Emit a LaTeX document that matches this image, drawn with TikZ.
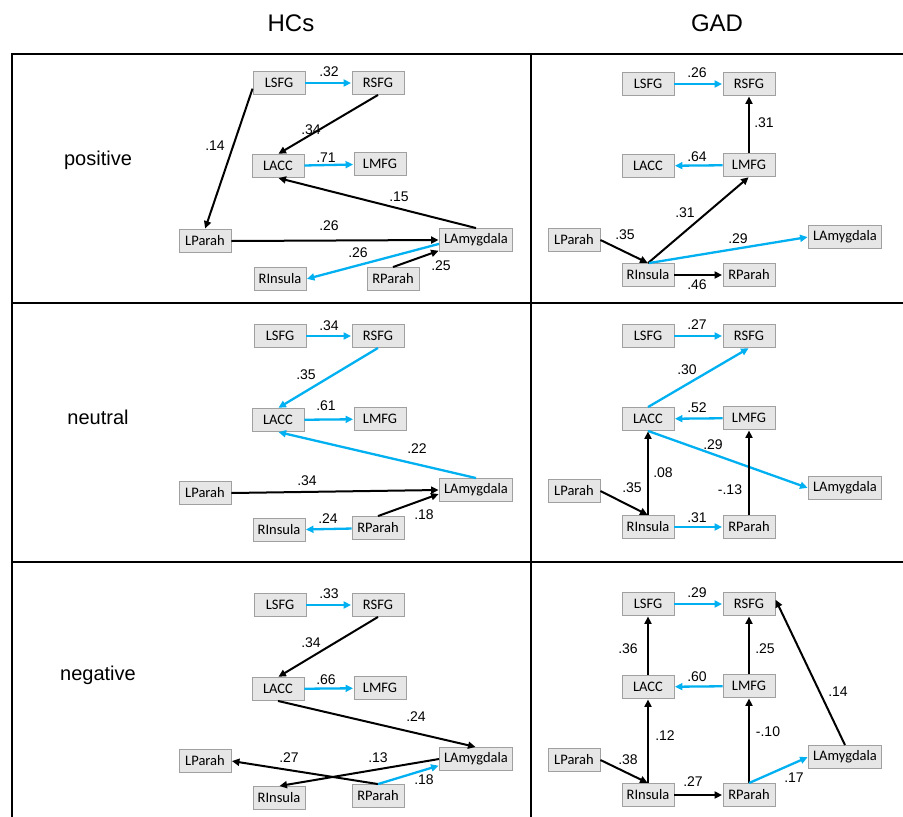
\documentclass[tikz,border=0pt]{standalone}
\usepackage{fontspec}
\setmainfont{Liberation Sans}
\newfontfamily\boxfont{Carlito}
\usetikzlibrary{arrows.meta}
\definecolor{sky}{RGB}{0,176,240}
\definecolor{boxfill}{RGB}{230,230,230}
\definecolor{boxline}{RGB}{160,160,160}
\tikzset{
  region/.style={draw=boxline, fill=boxfill, line width=0.9pt, minimum width=52pt, minimum height=23pt, inner sep=0pt, font=\boxfont\fontsize{14.5}{16}\selectfont},
  wide/.style={region, minimum width=73pt},
  bk/.style={-{Triangle[length=7.5pt,width=7pt]}, line width=2pt, black, shorten >=0.5pt},
  bl/.style={-{Triangle[length=7.5pt,width=7pt]}, line width=2.3pt, sky, shorten >=0.5pt},
  wt/.style={font=\fontsize{14}{15}\selectfont, inner sep=0pt},
  cond/.style={font=\fontsize{20}{22}\selectfont, inner sep=0pt},
  title/.style={font=\fontsize{24}{26}\selectfont, inner sep=0pt},
  frame/.style={line width=1.8pt, black},
}
\begin{document}
\begin{tikzpicture}[x=1pt,y=-1pt]
			%%%%% TABLE %%%%%
			\useasboundingbox (0,0) rectangle (903,817);
			\draw[frame] (12,817) -- (12,54) -- (903,54);
			\draw[frame] (531,54) -- (531,817);
			\draw[frame] (12,303) -- (903,303);
			\draw[frame] (12,562) -- (903,562);
			
			\node[title] (hcs) at (291,23) {HCs};
			\node[title] (gad) at (717,23) {GAD};
			\node[cond] (cpos) at (98,160) {positive};
			\node[cond] (cneu) at (98,417) {neutral};
			\node[cond] (cneg) at (98,675) {negative};
			
			%%%%% HCs positive %%%%%
			\node[region] (hposLSFG) at (279,83) {LSFG};
			\node[region] (hposRSFG) at (378,83) {RSFG};
			\node[region] (hposLACC) at (278,166) {LACC};
			\node[region] (hposLMFG) at (380,164) {LMFG};
			\node[region] (hposLParah) at (205,241) {LParah};
			\node[wide] (hposLAmy) at (476,240) {LAmygdala};
			\node[region] (hposRIns) at (280,279) {RInsula};
			\node[region] (hposRParah) at (393,279) {RParah};
			
			\draw[bl] (hposLSFG) -- (hposRSFG);
			\draw[bk] (hposLSFG.192) -- (hposLParah.north);
			\draw[bk] (hposRSFG.south) -- (hposLACC.north);
			\draw[bl] (hposLACC) -- (hposLMFG);
			\draw[bk] (hposLAmy.north) -- (hposLACC.south);
			\draw[bk] (hposLParah.east) -- (hposLAmy.west);
			\draw[bl] (hposLAmy.186) -- (hposRIns.east);
			\draw[bk] (hposRParah.north) -- (hposLAmy.196);
			
			\node[wt] (hposW1) at (329,72) {.32};
			\node[wt] (hposW2) at (215,146) {.14};
			\node[wt] (hposW3) at (311,130) {.34};
			\node[wt] (hposW4) at (326,158) {.71};
			\node[wt] (hposW5) at (399,197) {.15};
			\node[wt] (hposW6) at (329,226) {.26};
			\node[wt] (hposW7) at (358,253) {.26};
			\node[wt] (hposW8) at (441,266) {.25};
			
			%%%%% HCs neutral %%%%%
			\node[region] (hneuLSFG) at (280,336) {LSFG};
			\node[region] (hneuRSFG) at (378,336) {RSFG};
			\node[region] (hneuLACC) at (278,420) {LACC};
			\node[region] (hneuLMFG) at (380,419) {LMFG};
			\node[region] (hneuLParah) at (205,493) {LParah};
			\node[wide] (hneuLAmy) at (476,490) {LAmygdala};
			\node[region] (hneuRIns) at (279,530) {RInsula};
			\node[region] (hneuRParah) at (378,528) {RParah};
			
			\draw[bl] (hneuLSFG) -- (hneuRSFG);
			\draw[bl] (hneuRSFG.south) -- (hneuLACC.north);
			\draw[bl] (hneuLACC) -- (hneuLMFG);
			\draw[bl] (hneuLAmy.north) -- (hneuLACC.south);
			\draw[bk] (hneuLParah.east) -- (hneuLAmy.west);
			\draw[bk] (hneuRParah.north) -- (hneuLAmy.186);
			\draw[bl] (hneuRParah) -- (hneuRIns);
			
			\node[wt] (hneuW1) at (329,326) {.34};
			\node[wt] (hneuW2) at (306,375) {.35};
			\node[wt] (hneuW3) at (326,406) {.61};
			\node[wt] (hneuW4) at (417,449) {.22};
			\node[wt] (hneuW5) at (307,481) {.34};
			\node[wt] (hneuW6) at (424,515) {.18};
			\node[wt] (hneuW7) at (328,519) {.24};
			
			%%%%% HCs negative %%%%%
			\node[region] (hnegLSFG) at (280,605) {LSFG};
			\node[region] (hnegRSFG) at (378,605) {RSFG};
			\node[region] (hnegLACC) at (278,689) {LACC};
			\node[region] (hnegLMFG) at (380,688) {LMFG};
			\node[region] (hnegLParah) at (205,761) {LParah};
			\node[wide] (hnegLAmy) at (476,759) {LAmygdala};
			\node[region] (hnegRIns) at (279,798) {RInsula};
			\node[region] (hnegRParah) at (378,796) {RParah};
			
			\draw[bl] (hnegLSFG) -- (hnegRSFG);
			\draw[bk] (hnegRSFG.south) -- (hnegLACC.north);
			\draw[bl] (hnegLACC) -- (hnegLMFG);
			\draw[bk] (hnegLACC.south) -- (hnegLAmy.north);
			\draw[bk] (hnegRParah.north) -- (hnegLParah.east);
			\draw[bk] (hnegLAmy.west) -- (hnegRIns.north);
			\draw[bl] (hnegRParah.north) -- (hnegLAmy.190);
			
			\node[wt] (hnegW1) at (329,594) {.33};
			\node[wt] (hnegW2) at (311,643) {.34};
			\node[wt] (hnegW3) at (326,680) {.66};
			\node[wt] (hnegW4) at (416,717) {.24};
			\node[wt] (hnegW5) at (289,758) {.27};
			\node[wt] (hnegW6) at (378,758) {.13};
			\node[wt] (hnegW7) at (424,780) {.18};
			
			%%%%% GAD positive %%%%%
			\node[region] (gposLSFG) at (648,84) {LSFG};
			\node[region] (gposRSFG) at (749,84) {RSFG};
			\node[region] (gposLACC) at (648,166) {LACC};
			\node[region] (gposLMFG) at (749,165) {LMFG};
			\node[region] (gposLParah) at (574,240) {LParah};
			\node[wide] (gposLAmy) at (845,237) {LAmygdala};
			\node[region] (gposRIns) at (648,275) {RInsula};
			\node[region] (gposRParah) at (749,275) {RParah};
			
			\draw[bl] (gposLSFG) -- (gposRSFG);
			\draw[bk] (gposLMFG) -- (gposRSFG);
			\draw[bl] (gposLMFG) -- (gposLACC);
			\draw[bk] (gposLParah.east) -- (gposRIns.north);
			\draw[bk] (gposRIns.north) -- (gposLMFG.south);
			\draw[bl] (gposRIns.85) -- (gposLAmy.west);
			\draw[bk] (gposRIns) -- (gposRParah);
			
			\node[wt] (gposW1) at (697,73) {.26};
			\node[wt] (gposW2) at (764,123) {.31};
			\node[wt] (gposW3) at (697,157) {.64};
			\node[wt] (gposW4) at (625,235) {.35};
			\node[wt] (gposW5) at (685,213) {.31};
			\node[wt] (gposW6) at (738,239) {.29};
			\node[wt] (gposW7) at (697,285) {.46};
			
			%%%%% GAD neutral %%%%%
			\node[region] (gneuLSFG) at (648,336) {LSFG};
			\node[region] (gneuRSFG) at (749,336) {RSFG};
			\node[region] (gneuLACC) at (648,419) {LACC};
			\node[region] (gneuLMFG) at (749,418) {LMFG};
			\node[region] (gneuLParah) at (574,491) {LParah};
			\node[wide] (gneuLAmy) at (845,488) {LAmygdala};
			\node[region] (gneuRIns) at (648,527) {RInsula};
			\node[region] (gneuRParah) at (749,527) {RParah};
			
			\draw[bl] (gneuLSFG) -- (gneuRSFG);
			\draw[bl] (gneuLACC.north) -- (gneuRSFG.south);
			\draw[bl] (gneuLMFG) -- (gneuLACC);
			\draw[bl] (gneuLACC.south) -- (gneuLAmy.west);
			\draw[bk] (gneuLParah.east) -- (gneuRIns.north);
			\draw[bk] (gneuRIns) -- (gneuLACC);
			\draw[bl] (gneuRIns) -- (gneuRParah);
			\draw[bk] (gneuRParah) -- (gneuLMFG);
			
			\node[wt] (gneuW1) at (697,325) {.27};
			\node[wt] (gneuW2) at (687,370) {.30};
			\node[wt] (gneuW3) at (697,408) {.52};
			\node[wt] (gneuW4) at (713,445) {.29};
			\node[wt] (gneuW5) at (663,473) {.08};
			\node[wt] (gneuW6) at (632,488) {.35};
			\node[wt] (gneuW7) at (730,490) {-.13};
			\node[wt] (gneuW8) at (697,518) {.31};
			
			%%%%% GAD negative %%%%%
			\node[region] (gnegLSFG) at (648,604) {LSFG};
			\node[region] (gnegRSFG) at (749,604) {RSFG};
			\node[region] (gnegLACC) at (648,687) {LACC};
			\node[region] (gnegLMFG) at (749,686) {LMFG};
			\node[region] (gnegLParah) at (574,760) {LParah};
			\node[wide] (gnegLAmy) at (845,757) {LAmygdala};
			\node[region] (gnegRIns) at (648,795) {RInsula};
			\node[region] (gnegRParah) at (749,795) {RParah};
			
			\draw[bl] (gnegLSFG) -- (gnegRSFG);
			\draw[bk] (gnegLACC) -- (gnegLSFG);
			\draw[bk] (gnegLMFG) -- (gnegRSFG);
			\draw[bl] (gnegLMFG) -- (gnegLACC);
			\draw[bk] (gnegLAmy.north) -- (gnegRSFG.10);
			\draw[bk] (gnegLParah.east) -- (gnegRIns.north);
			\draw[bk] (gnegRIns) -- (gnegLACC);
			\draw[bk] (gnegRParah) -- (gnegLMFG);
			\draw[bk] (gnegRIns) -- (gnegRParah);
			\draw[bl] (gnegRParah.north) -- (gnegLAmy.west);
			
			\node[wt] (gnegW1) at (697,593) {.29};
			\node[wt] (gnegW2) at (628,649) {.36};
			\node[wt] (gnegW3) at (765,649) {.25};
			\node[wt] (gnegW4) at (697,677) {.60};
			\node[wt] (gnegW5) at (838,692) {.14};
			\node[wt] (gnegW6) at (665,736) {.12};
			\node[wt] (gnegW7) at (768,732) {-.10};
			\node[wt] (gnegW8) at (628,760) {.38};
			\node[wt] (gnegW9) at (693,782) {.27};
			\node[wt] (gnegW10) at (794,778) {.17};
\end{tikzpicture}
\end{document}
